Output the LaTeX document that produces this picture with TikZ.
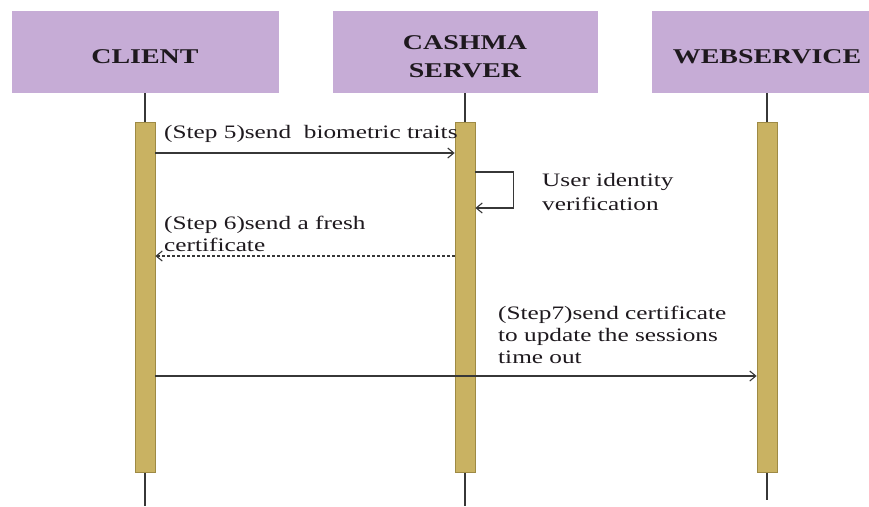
\documentclass[tikz,border=0pt]{standalone}
\usepackage{fontspec}
\usepackage{graphicx}
\setmainfont{Liberation Serif}
\usetikzlibrary{arrows.meta}
\definecolor{boxfill}{RGB}{198,172,214}
\definecolor{barfill}{RGB}{201,178,98}
\definecolor{bardraw}{RGB}{158,138,68}
\definecolor{linecol}{RGB}{55,55,55}
\definecolor{txtcol}{RGB}{30,25,30}
\newcommand{\sx}[1]{\scalebox{1.33}[1]{#1}}
\newcommand{\hx}[1]{\raisebox{-5pt}[\height][\depth]{\scalebox{1.33}[1]{#1}}}
\tikzset{
  hdr/.style={fill=boxfill, draw=none, minimum height=82pt, inner sep=0pt,
    align=center, text=txtcol, font=\fontsize{21}{27}\selectfont\bfseries},
  actbar/.style={fill=barfill, draw=bardraw, line width=0.8pt,
    minimum width=20pt, minimum height=350pt, inner sep=0pt},
  life/.style={draw=linecol, line width=1.4pt},
  msg/.style={draw=linecol, line width=1.1pt, -{Straight Barb[length=6pt,width=10pt]}},
  lbl/.style={inner sep=0pt, anchor=north west, align=left, text=txtcol,
    font=\fontsize{19}{22}\selectfont}
}
\begin{document}
\begin{tikzpicture}[x=1pt,y=-1pt]
\path[use as bounding box] (0,0) rectangle (869,506);
\clip (0,0) rectangle (869,506);
\fill[white] (0,0) rectangle (869,506);
% header boxes
\node[hdr, minimum width=267pt] (client) at (145,52) {\hx{CLIENT}};
\node[hdr, minimum width=265pt] (server) at (465,52) {\hx{CASHMA}\\[1pt]\hx{SERVER}};
\node[hdr, minimum width=230pt] (web) at (767,52) {\hx{WEBSERVICE}};
% lifeline ends
\coordinate (cend) at (145,506);
\coordinate (send) at (465,506);
\coordinate (wend) at (767,500);
\draw[life] (client.south) -- (cend);
\draw[life] (server.south) -- (send);
\draw[life] (web.south) -- (wend);
% activation bars
\node[actbar] (cb) at (145,297) {};
\node[actbar] (sb) at (465,297) {};
\node[actbar] (wb) at (767,297) {};
% message levels
\coordinate (y5) at (0,153);
\coordinate (yl1) at (0,172);
\coordinate (yl2) at (0,208);
\coordinate (y6) at (0,256);
\coordinate (y7) at (0,376);
% messages
\draw[msg] (cb.east |- y5) -- (sb.west |- y5);
\draw[msg] (sb.east |- yl1) -- ++(38,0) -- ++(0,36) -- (sb.east |- yl2);
\draw[msg, dash pattern=on 3pt off 2pt] (sb.west |- y6) -- (cb.east |- y6);
\draw[msg] (cb.east |- y7) -- (wb.west |- y7);
% labels
\node[lbl] (l5) at (164,125) {\sx{(Step 5)send\ \ biometric traits}};
\node[lbl] (lv) at (542,173) {\sx{User identity}\\[2pt]\sx{verification}};
\node[lbl] (l6) at (164,216) {\sx{(Step 6)send a fresh}\\\sx{certificate}};
\node[lbl] (l7) at (498,306) {\sx{(Step7)send certificate}\\\sx{to update the sessions}\\\sx{time out}};
\end{tikzpicture}
\end{document}
